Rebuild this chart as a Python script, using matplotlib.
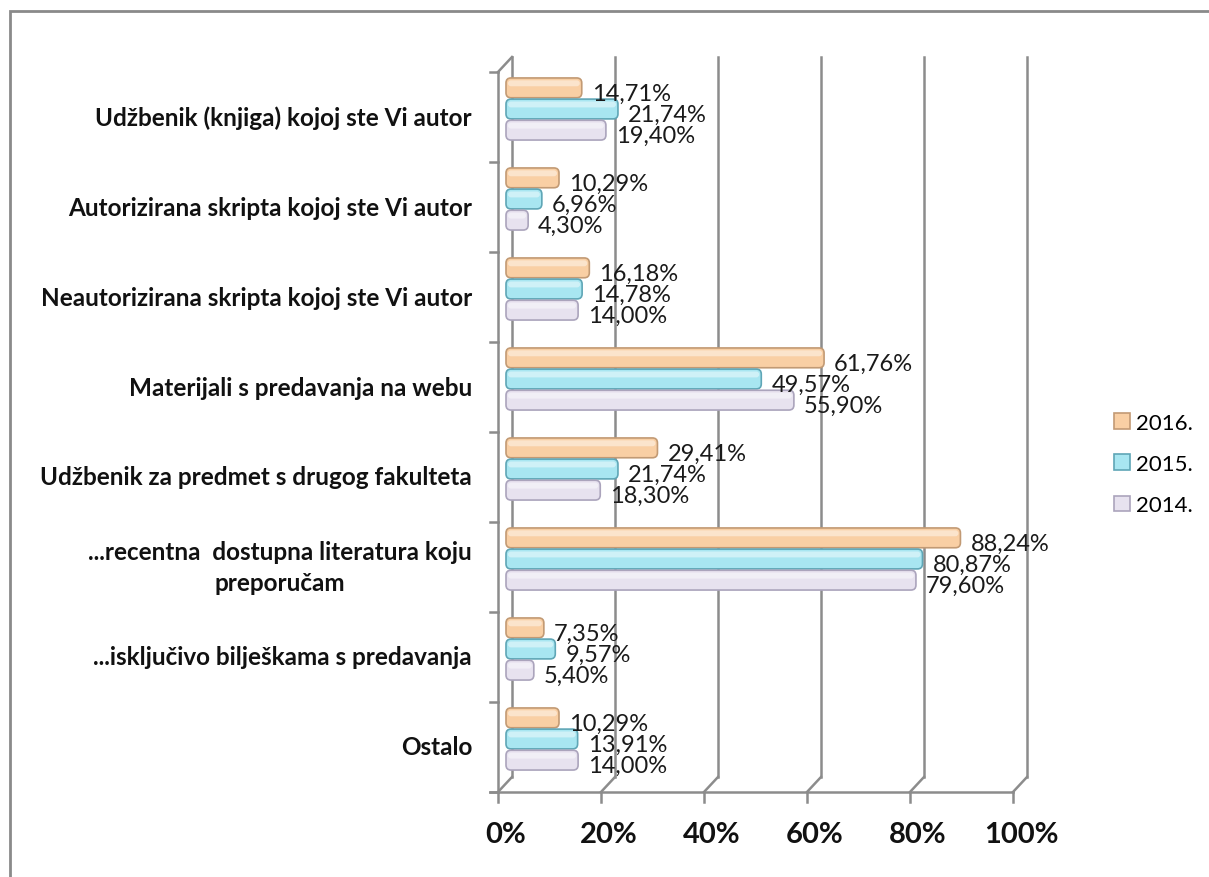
import matplotlib.pyplot as plt
from matplotlib.patches import FancyBboxPatch, Patch, Rectangle

# ---------------------------
# Data
# ---------------------------
categories = [
    "Udžbenik (knjiga) kojoj ste Vi autor",
    "Autorizirana skripta kojoj ste Vi autor",
    "Neautorizirana skripta kojoj ste Vi autor",
    "Materijali s predavanja na webu",
    "Udžbenik za predmet s drugog fakulteta",
    "...recentna  dostupna literatura koju\npreporučam",
    "...isključivo bilješkama s predavanja",
    "Ostalo",
]
years = ["2016.", "2015.", "2014."]
v2016 = [14.71, 10.29, 16.18, 61.76, 29.41, 88.24, 7.35, 10.29]
v2015 = [21.74, 6.96, 14.78, 49.57, 21.74, 80.87, 9.57, 13.91]
v2014 = [19.40, 4.30, 14.00, 55.90, 18.30, 79.60, 5.40, 14.00]
series = [v2016, v2015, v2014]
x_ticks = [0, 20, 40, 60, 80, 100]

# ---------------------------
# Style
# ---------------------------
fills = ["#F9CFA4", "#A8E6F1", "#E7E2EF"]
edges = ["#C29A74", "#5FA6B6", "#ABA4BC"]
grid_col = "#8C8C8C"
plt.rcParams["font.family"] = ["Lato", "DejaVu Sans"]

W, H, DPI = 1209, 878, 100
fig = plt.figure(figsize=(W / DPI, H / DPI), dpi=DPI)

# bar plane (middle depth of the pseudo 3D box), in pixels
left_px, right_px, top_px, bot_px = 506, 1021, 65, 785
ax = fig.add_axes([left_px / W, 1 - bot_px / H,
                   (right_px - left_px) / W, (bot_px - top_px) / H])
ax.set_xlim(0, 100)
ax.set_ylim(len(categories) - 0.5, -0.5)
ax.axis("off")

px_x = 100 / (right_px - left_px)
px_y = len(categories) / (bot_px - top_px)

# front / back planes offsets (pixels)
fx, fy = -8, 8
bx, by = 6, -7

def front(x, y):
    return x + fx * px_x, y + fy * px_y

def back(x, y):
    return x + bx * px_x, y + by * px_y

y_top, y_bot = -0.5, len(categories) - 0.5
lw = 1.8

# back wall gridlines
for v in x_ticks:
    x0, y0 = back(v, y_top)
    x1, y1 = back(v, y_bot)
    ax.plot([x0, x1], [y0, y1], color=grid_col, lw=lw, clip_on=False, zorder=1)
    # floor diagonal
    fx0, fy0 = front(v, y_bot)
    ax.plot([fx0, x1], [fy0, y1], color=grid_col, lw=lw, clip_on=False, zorder=1)
    # front tick
    ax.plot([fx0, fx0], [fy0, fy0 + 10 * px_y], color=grid_col, lw=lw,
            clip_on=False, zorder=1)

# front bottom axis
a0, b0 = front(0, y_bot)
a1, b1 = front(100, y_bot)
ax.plot([a0 - 8 * px_x, a1], [b0, b1], color=grid_col, lw=lw, clip_on=False, zorder=1)

# front left axis + category ticks
c0, d0 = front(0, y_top)
ax.plot([c0, c0], [d0, b0], color=grid_col, lw=lw, clip_on=False, zorder=1)
for k in range(len(categories) + 1):
    cx, cy = front(0, k - 0.5)
    ax.plot([cx - 8 * px_x, cx], [cy, cy], color=grid_col, lw=lw, clip_on=False, zorder=1)
e0, f0 = back(0, y_top)
ax.plot([c0, e0], [d0, f0], color=grid_col, lw=lw, clip_on=False, zorder=1)

# ---------------------------
# Bars
# ---------------------------
step = 0.235
bar_h = 0.22
aspect = px_y / px_x
radius = 5 * px_x

for j, vals in enumerate(series):
    pos = [i + (j - 1) * step for i in range(len(categories))]
    bars = ax.barh(pos, vals, height=bar_h, color=fills[j], edgecolor=edges[j])
    for b, v in zip(bars, vals):
        b.set_visible(False)
        x, y = b.get_x(), b.get_y()
        w, h = b.get_width(), b.get_height()
        ax.add_patch(FancyBboxPatch((x, y), w, h,
                                    boxstyle=f"round,pad=0,rounding_size={radius}",
                                    mutation_aspect=aspect, fc=fills[j], ec=edges[j],
                                    lw=1.2, zorder=3, clip_on=False))
        # highlight on the upper part of the cylinder
        ax.add_patch(FancyBboxPatch((x + 2 * px_x, y + h * 0.12), max(w - 4 * px_x, 0.1), h * 0.3,
                                    boxstyle=f"round,pad=0,rounding_size={radius * 0.6}",
                                    mutation_aspect=aspect, fc="white", ec="none",
                                    alpha=0.45, zorder=4, clip_on=False))
        ax.text(x + w + 10 * px_x, y + h / 2 + 5 * px_y,
                f"{v:.2f}%".replace(".", ","), fontsize=17, color="#1a1a1a",
                ha="left", va="center", zorder=5)

# category labels
for i, name in enumerate(categories):
    ax.text((472 - left_px) * px_x, i + fy * px_y, name, ha="right", va="center",
            multialignment="center", fontsize=17.5, fontweight="bold", color="#111111",
            linespacing=1.45)

# x tick labels
for v in x_ticks:
    tx, _ = front(v, y_bot)
    ax.text(tx + 8 * px_x, y_bot + (828 - 778) * px_y, f"{v}%", ha="center",
            va="center", fontsize=21, fontweight="bold", color="#111111")

# legend
handles = [Patch(fc=fills[j], ec=edges[j], lw=1.2) for j in range(3)]
fig.legend(handles, years, loc="center left", bbox_to_anchor=(1094 / W, 1 - 465 / H),
           frameon=False, fontsize=16, handlelength=0.7, handleheight=0.7,
           labelspacing=0.95, handletextpad=0.3)

# outer border
fig.add_artist(Rectangle((10 / W, -0.1), 1.2, 1 - 12 / H + 0.1, transform=fig.transFigure,
                         fill=False, ec="#8A8A8A", lw=2))

fig.savefig("out.png", dpi=DPI)
